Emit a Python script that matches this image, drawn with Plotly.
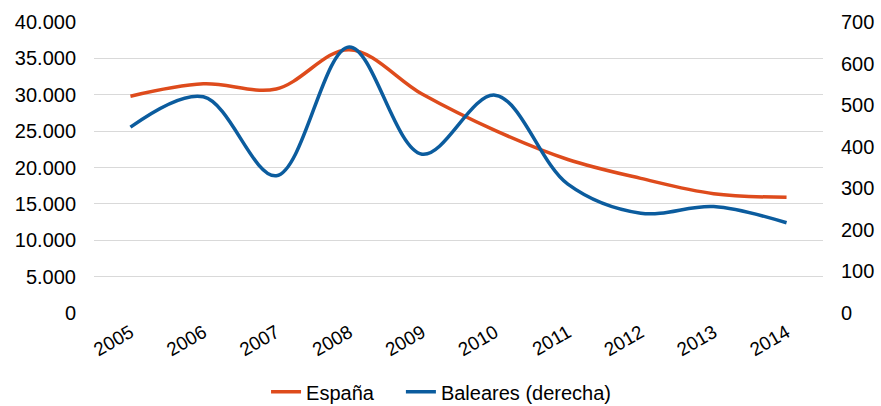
import plotly.graph_objects as go

years = ["2005", "2006", "2007", "2008", "2009", "2010", "2011", "2012", "2013", "2014"]
espana = [29800, 31500, 30800, 36200, 30100, 25100, 21100, 18500, 16400, 15900]
baleares = [447, 520, 330, 640, 382, 524, 310, 240, 256, 217]

left_ticks = [0, 5000, 10000, 15000, 20000, 25000, 30000, 35000, 40000]
left_labels = ["0", "5.000", "10.000", "15.000", "20.000", "25.000", "30.000", "35.000", "40.000"]
right_ticks = [0, 100, 200, 300, 400, 500, 600, 700]

fig = go.Figure()
fig.add_trace(go.Scatter(x=years, y=espana, name="España", mode="lines", legend="legend",
                         line=dict(color="#DE4B1C", width=3.5, shape="spline", smoothing=1.0)))
fig.add_trace(go.Scatter(x=years, y=baleares, name="Baleares (derecha)", mode="lines", yaxis="y2",
                         legend="legend2",
                         line=dict(color="#0B5C9E", width=3.5, shape="spline", smoothing=1.0)))

legend_common = dict(orientation="h", xanchor="left", yref="container", y=0.035,
                     yanchor="middle", font=dict(size=20), itemwidth=30,
                     bgcolor="rgba(0,0,0,0)")

fig.update_layout(
    width=881, height=406,
    margin=dict(l=94, r=58, t=22, b=93, autoexpand=False),
    paper_bgcolor="white", plot_bgcolor="white",
    font=dict(family="Liberation Sans, Arial", size=20, color="#000000"),
    showlegend=True,
    legend=dict(x=0.236, **legend_common),
    legend2=dict(x=0.421, **legend_common),
    xaxis=dict(type="category", range=[-0.5, 9.5], tickangle=-30, showgrid=False, showline=False,
               ticks="", tickfont=dict(size=19), automargin=False, ticklabelstandoff=4),
    yaxis=dict(range=[0, 40000], tickvals=left_ticks, ticktext=left_labels,
               showgrid=True, gridcolor="#D9D9D9", gridwidth=1, zeroline=False,
               showline=False, ticks="", tickfont=dict(size=20), ticklabelstandoff=17,
               automargin=False),
    yaxis2=dict(range=[0, 700], tickvals=right_ticks, overlaying="y", side="right",
                showgrid=False, zeroline=False, showline=False, ticks="",
                tickfont=dict(size=20), ticklabelstandoff=17, automargin=False),
)

fig.write_html("out.html", config={"displayModeBar": False},
               post_script="document.body.style.margin='0';")
